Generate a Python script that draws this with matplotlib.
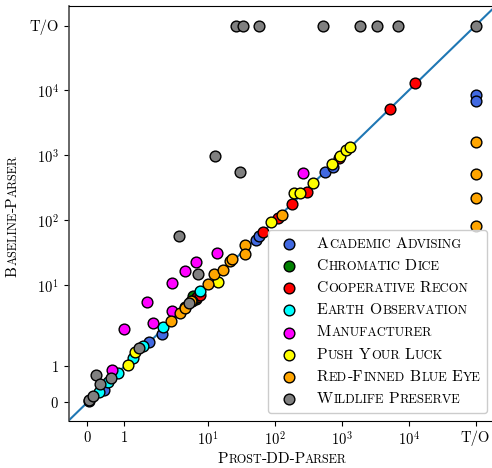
import matplotlib
matplotlib.use('Agg')
import matplotlib.pyplot as plt
from matplotlib.lines import Line2D
from matplotlib.ticker import NullLocator
from matplotlib.offsetbox import AnchoredOffsetbox, HPacker, VPacker, TextArea, DrawingArea

plt.rcParams['font.family'] = 'cmr10'
plt.rcParams['mathtext.fontset'] = 'cm'
plt.rcParams['axes.formatter.use_mathtext'] = True

# timeout runs are plotted at this value
TO = 1e5

# Data (x = Prost-DD-Parser, y = Baseline-Parser)
academic_x = [0.05, 0.46, 1.66, 2.05, 52, 57, 557, 741, TO, TO]
academic_y = [0.05, 0.35, 1.69, 1.91, 50, 58, 547, 667, 8430, 6890]

chromatic_x = [4.5, 5.9, 6.5]
chromatic_y = [4.6, 6.8, 6.2]

coop_x = [6.8, 7.5, 65, 111, 177, 297, 912, 5284, 12360]
coop_y = [6.5, 7.1, 65.6, 108, 178, 275, 900, 5260, 12890]

earth_x = [0.31, 0.57, 0.82, 1.24, 1.49, 2.12, 5.8, 7.6]
earth_y = [0.30, 0.58, 0.81, 1.24, 1.56, 2.28, 5.7, 8.0]

manu_x = [0.66, 0.99, 1.62, 1.76, 2.83, 2.89, 4.48, 6.55, 13.6, 264]
manu_y = [0.90, 2.07, 5.43, 2.59, 3.95, 10.8, 16.3, 22.4, 31.2, 528]

push_x = [1.09, 1.28, 14, 86, 191, 236, 365, 708, 934, 1148, 1318]
push_y = [1.03, 1.40, 11, 93, 261, 266, 371, 726, 975, 1215, 1355]

redfin_x = [2.74, 3.81, 4.5, 5.5, 10.0, 12.3, 16.4, 21.1, 23, 35.4, 35.4, 125, TO, TO, TO, TO]
redfin_y = [2.84, 3.65, 4.4, 5.6, 10.4, 14.9, 16.9, 23.2, 25, 41.9, 30.1, 121, 1614, 515, 223, 80]

wildlife_x = [0.05, 0.16, 0.24, 0.34, 0.64, 1.40, 3.67, 5.2, 7.1, 12.6, 29.7,
              25.7, 32.7, 57.3, 514, 1858, 3304, 6888, TO]
wildlife_y = [0.055, 0.17, 0.76, 0.50, 0.69, 1.50, 56.1, 5.3, 14.9, 975, 553,
              TO, TO, TO, TO, TO, TO, TO, TO]

series = [
    ('Academic Advising', 'royalblue', academic_x, academic_y),
    ('Chromatic Dice', 'green', chromatic_x, chromatic_y),
    ('Cooperative Recon', 'red', coop_x, coop_y),
    ('Earth Observation', 'cyan', earth_x, earth_y),
    ('Manufacturer', 'magenta', manu_x, manu_y),
    ('Push Your Luck', 'yellow', push_x, push_y),
    ('Red-Finned Blue Eye', 'orange', redfin_x, redfin_y),
    ('Wildlife Preserve', 'gray', wildlife_x, wildlife_y),
]

tick_vals = [0, 1, 10, 100, 1000, 1e4, TO]
tick_labels = ['$0$', '$1$', '$10^{1}$', '$10^{2}$', '$10^{3}$', '$10^{4}$', 'T/O']

SC = 0.8  # small caps height factor
# rough kerning between runs (points), TeX does these tighter
KERN = {('P', 'A'): -1.6, ('T', '-'): -1.2}


# split a word into runs of capitals / fake small caps
def sc_pieces(word, size):
    runs = []
    for ch in word:
        big = not ch.islower()
        if runs and runs[-1][0] == big:
            runs[-1][1] += ch
        else:
            runs.append([big, ch])
    return [(s if big else s.upper(), size if big else size * SC) for big, s in runs]


def sc_box(text, size):
    words = []
    for word in text.split(' '):
        parts = [TextArea(s, textprops=dict(size=fs)) for s, fs in sc_pieces(word, size)]
        words.append(HPacker(children=parts, pad=0, sep=0.5, align='baseline'))
    return HPacker(children=words, pad=0, sep=0.3 * size, align='baseline')


# draw small caps text centred on (cx, cy), pixel coords from bottom-left
def sc_text(fig, cx, cy, text, size, rotation=0):
    renderer = fig.canvas.get_renderer()
    W, H = fig.bbox.width, fig.bbox.height
    px = fig.dpi / 72
    pieces = []
    for i, word in enumerate(text.split(' ')):
        if i > 0:
            pieces.append((None, size * 0.3 * px))
        pieces.extend(sc_pieces(word, size))
    widths = []
    for k, (s, fs) in enumerate(pieces):
        if s is None:
            widths.append(fs)
            continue
        t = fig.text(0, 0, s, size=fs)
        w = t.get_window_extent(renderer).width + 0.5 * px
        t.remove()
        nxt = pieces[k + 1][0] if k + 1 < len(pieces) else None
        if nxt:
            w += KERN.get((s[-1], nxt[0]), 0) * px
        widths.append(w)
    pos = -sum(widths) / 2
    for (s, fs), w in zip(pieces, widths):
        if s is not None:
            if rotation == 0:
                fig.text((cx + pos) / W, cy / H, s, size=fs, ha='left', va='baseline')
            else:
                fig.text(cx / W, (cy + pos) / H, s, size=fs, ha='left', va='baseline',
                         rotation=90, rotation_mode='anchor')
        pos += w


fig = plt.figure(figsize=(4.92, 4.68), dpi=100)
ax = fig.add_axes([68.7 / 492, 47.5 / 468, 427 / 492, 414.5 / 468])
ax.set_xscale('symlog', linthresh=2, linscale=1)
ax.set_yscale('symlog', linthresh=2, linscale=1)
ax.set_xlim(-0.5, 2e5)
ax.set_ylim(-0.5, 2e5)

ax.plot([-0.5, 2e5], [-0.5, 2e5], color='#1f77b4', lw=1.5, zorder=1)
for name, color, xs, ys in series:
    ax.scatter(xs, ys, s=60, c=color, edgecolors='black', linewidths=1, zorder=2)

ax.set_xticks(tick_vals, tick_labels, fontsize=10.5)
ax.set_yticks(tick_vals, tick_labels, fontsize=10.5)
ax.xaxis.set_minor_locator(NullLocator())
ax.yaxis.set_minor_locator(NullLocator())
ax.spines['left'].set_color('0.3')
ax.spines['left'].set_linewidth(1.2)

# legend built by hand so the labels can be in small caps
rows = []
for name, color, _, _ in series:
    da = DrawingArea(22, 10.5, 0, 0)
    da.add_artist(Line2D([11], [5.25], marker='o', markersize=7.7, markerfacecolor=color,
                         markeredgecolor='black', markeredgewidth=1, linestyle='none'))
    rows.append(HPacker(children=[da, sc_box(name, 11.3)], pad=0, sep=8.8, align='center'))
box = VPacker(children=rows, pad=0, sep=5.5, align='left')
leg = AnchoredOffsetbox(loc='lower right', child=box, pad=0.4, borderpad=0, frameon=True,
                        bbox_to_anchor=(487.3 / 492, 55.3 / 468),
                        bbox_transform=fig.transFigure, prop=dict(size=11))
leg.patch.set_boxstyle('round,pad=0,rounding_size=0.2')
leg.patch.set_facecolor((1, 1, 1, 0.8))
leg.patch.set_edgecolor('0.8')
leg.set_zorder(5)
ax.add_artist(leg)

sc_text(fig, 282.2, 5.3, 'Prost-DD-Parser', 11)
sc_text(fig, 16.7, 252, 'Baseline-Parser', 11, rotation=90)

fig.savefig('out.png', dpi=100)
